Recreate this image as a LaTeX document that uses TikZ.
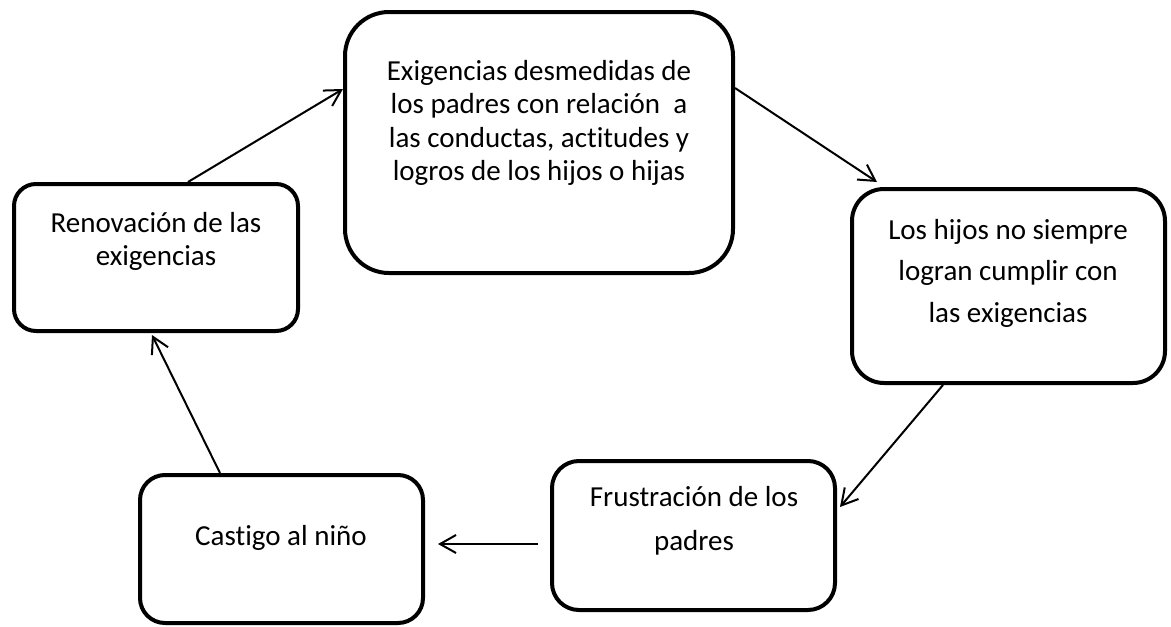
\documentclass[tikz,border=0pt]{standalone}
\usepackage{fontspec}
\setmainfont{Carlito}[Ligatures=CommonOff]
\usetikzlibrary{arrows.meta}

\begin{document}
\begin{tikzpicture}[x=1pt, y=-1pt,
    caja/.style = {draw, line width=4pt, inner sep=0pt, rounded corners=#1},
    caja/.default = 25pt,
    texto/.style = {align=center, inner sep=0pt, font=\fontsize{29}{33.3}\selectfont},
    flecha/.style = {line width=2pt, -{Straight Barb[length=16pt,width=18pt]}}]
    \useasboundingbox (0,0) rectangle (1171,627);

    \node[caja=22pt, minimum width=284pt, minimum height=147pt] (reno) at (156,257.5) {};
    \node[caja=44pt, minimum width=388pt, minimum height=261pt] (exig) at (539,142.5) {};
    \node[caja=32pt, minimum width=313pt, minimum height=194pt] (hijos) at (1008.5,286) {};
    \node[caja=27pt, minimum width=283pt, minimum height=149pt] (frus) at (693.5,535.5) {};
    \node[caja=25pt, minimum width=283pt, minimum height=148pt] (casti) at (281.5,549) {};

    \node[texto, font=\fontsize{29}{33}\selectfont] (renoT) at (156,241.5) {Renovación de las\\exigencias};
    \node[texto] (exigT) at (539,123) {Exigencias desmedidas de\\los padres con relación\ \ a\\las conductas, actitudes y\\logros de los hijos o hijas};
    \node[texto, font=\fontsize{29}{41.5}\selectfont] (hijosT) at (1008,273) {Los hijos no siempre\\logran cumplir con\\las exigencias};
    \node[texto, font=\fontsize{29}{44}\selectfont] (frusT) at (694,520.5) {Frustración de los\\padres};
    \node[texto] (castiT) at (281,538) {Castigo al niño};

    \draw[flecha] ([xshift=32pt]reno.north) -- ([yshift=53.5pt]exig.west);
    \draw[flecha] ([yshift=54.5pt]exig.east) -- ([xshift=-131.5pt, yshift=5pt]hijos.north);
    \draw[flecha] ([xshift=-65.5pt]hijos.south) -- ([xshift=3pt, yshift=28.5pt]frus.east);
    \draw[flecha] ([xshift=-12pt, yshift=-8.5pt]frus.west) -- ([xshift=13pt, yshift=5pt]casti.east);
    \draw[flecha] ([xshift=-61.5pt]casti.north) -- ([xshift=-4pt, yshift=-2pt]reno.south);
\end{tikzpicture}
\end{document}
